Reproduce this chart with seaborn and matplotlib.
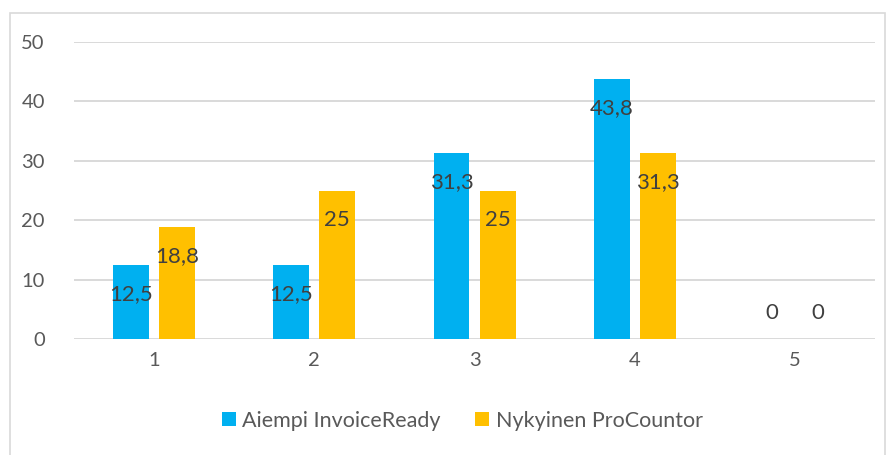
import matplotlib
matplotlib.use("Agg")
import matplotlib.pyplot as plt
from matplotlib.patches import Rectangle, Patch
import seaborn as sns
import pandas as pd

categories = ["1", "2", "3", "4", "5"]
series_names = ["Aiempi InvoiceReady", "Nykyinen ProCountor"]
invoiceready = [12.5, 12.5, 31.3, 43.8, 0]
procountor = [18.8, 25, 25, 31.3, 0]
y_ticks = [0, 10, 20, 30, 40, 50]

colors = ["#00B0F0", "#FFC000"]

df = pd.DataFrame({
    "kategoria": categories * 2,
    "arvo": invoiceready + procountor,
    "sarja": [series_names[0]] * len(categories) + [series_names[1]] * len(categories),
})

sns.set_theme(style="white")
plt.rcParams["font.family"] = ["Lato", "DejaVu Sans"]

fig = plt.figure(figsize=(8.96, 4.55), dpi=100)
ax = fig.add_axes([0.0826, 0.2549, 0.894, 0.6528])

sns.barplot(data=df, x="kategoria", y="arvo", hue="sarja", order=categories,
            hue_order=series_names, palette=colors, saturation=1, width=0.575, gap=0.22,
            edgecolor="none", legend=False, ax=ax, errorbar=None)

ax.set_xlim(-0.5, 4.5)
ax.set_ylim(0, 50)
ax.set_yticks(y_ticks)
ax.yaxis.grid(True, color="#D9D9D9", linewidth=1.4)
ax.set_axisbelow(True)
for s in ax.spines.values():
    s.set_visible(False)
ax.tick_params(axis="both", length=0, labelsize=14.5, colors="#595959")
ax.tick_params(axis="y", pad=21)
ax.tick_params(axis="x", pad=9)
ax.set_xlabel("")
ax.set_ylabel("")

# Value labels just inside the bar ends
for container in ax.containers:
    for bar in container:
        v = bar.get_height()
        xc = bar.get_x() + bar.get_width() / 2
        txt = f"{v:g}".replace(".", ",")
        dy = 19 if v == 0 else -21
        ax.annotate(txt, (xc, v), xytext=(0, dy), textcoords="offset points",
                    ha="center", va="center", fontsize=16, color="#404040")

handles = [Patch(facecolor=c, edgecolor="none") for c in colors]
fig.legend(handles, series_names, loc="center", bbox_to_anchor=(0.516, 0.075),
           ncol=2, frameon=False, fontsize=15.5, handlelength=0.65, handleheight=0.65,
           columnspacing=1.6, handletextpad=0.3, labelcolor="#595959")

fig.patches.append(Rectangle((10 / 896, -0.02), 875 / 896, 1 - 13 / 455 + 0.02,
                             transform=fig.transFigure, fill=False,
                             edgecolor="#D9D9D9", linewidth=1.2))

fig.savefig("out.png", dpi=100)
